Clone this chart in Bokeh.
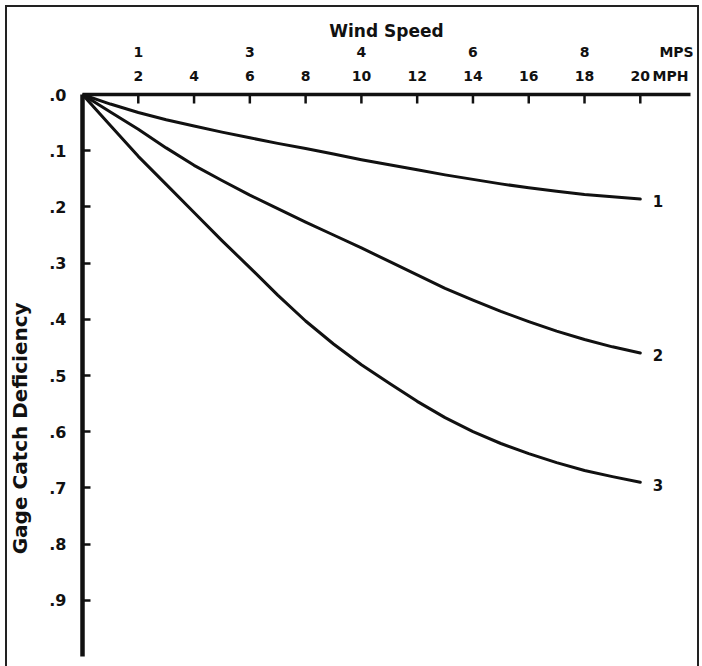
from bokeh.plotting import figure
from bokeh.models import Range1d, LinearAxis, FixedTicker, ColumnDataSource
from bokeh.core.properties import value
from bokeh.embed import file_html
from bokeh.resources import INLINE

# ---- data ----
mph = [0, 1, 2, 3, 4, 5, 6, 7, 8, 9, 10, 11, 12, 13, 14, 15, 16, 17, 18, 19, 20]
curve1 = [0, 0.017, 0.032, 0.045, 0.056, 0.067, 0.077, 0.087, 0.096, 0.106, 0.116,
          0.125, 0.134, 0.143, 0.151, 0.159, 0.166, 0.172, 0.178, 0.182, 0.186]
curve2 = [0, 0.031, 0.062, 0.095, 0.126, 0.153, 0.179, 0.203, 0.227, 0.25, 0.273,
          0.297, 0.321, 0.345, 0.366, 0.386, 0.404, 0.421, 0.436, 0.449, 0.46]
curve3 = [0, 0.055, 0.11, 0.16, 0.21, 0.26, 0.308, 0.357, 0.403, 0.444, 0.481,
          0.514, 0.546, 0.575, 0.6, 0.621, 0.639, 0.655, 0.669, 0.68, 0.69]
curve_names = ["1", "2", "3"]

mph_ticks = [2, 4, 6, 8, 10, 12, 14, 16, 18, 20]
mph_unit = "MPH"
mph_unit_pos = 21.08
mps_tick_pos = [2, 6, 10, 14, 18]
mps_tick_labels = ["1", "3", "4", "6", "8"]
mps_unit = "MPS"
mps_unit_pos = 21.3
y_ticks = [0.0, 0.1, 0.2, 0.3, 0.4, 0.5, 0.6, 0.7, 0.8, 0.9]
y_tick_labels = [".0", ".1", ".2", ".3", ".4", ".5", ".6", ".7", ".8", ".9"]

x_title = "Wind Speed"
y_title = "Gage Catch Deficiency"
y_title_pos = 0.594   # where the title is centred along the deficiency scale

FONT = "DejaVu Sans"
INK = "#111111"

p = figure(width=702, height=666,
           x_range=Range1d(0, 21.8), y_range=Range1d(1.0, 0.0),
           x_axis_location="above", y_axis_location="left",
           output_backend="svg", toolbar_location=None,
           min_border_left=82, min_border_top=94, min_border_right=12, min_border_bottom=10)
p.grid.visible = False
p.outline_line_color = None
p.border_fill_color = None
p.background_fill_color = None
p.styles = {"box-shadow": ("inset 5px 5px 0 #ffffff, inset -3px 0 0 #ffffff, "
                           "inset 7px 7px 0 #222222, inset -5px 0 0 #222222")}


def style_labels(ax, size="14px"):
    ax.major_label_text_font = FONT
    ax.major_label_text_font_style = "bold"
    ax.major_label_text_font_size = size
    ax.major_label_text_color = INK


# MPH row: axis line + MPH labels (tick marks drawn below as short inward strokes)
mph_labels = {t: str(t) for t in mph_ticks}
mph_labels[mph_unit_pos] = mph_unit
xa = p.xaxis[0]
xa.ticker = FixedTicker(ticks=mph_ticks + [mph_unit_pos])
xa.major_label_overrides = mph_labels
xa.axis_line_width = 3.5
xa.axis_line_color = INK
xa.major_tick_line_color = None
xa.minor_tick_line_color = None
xa.major_label_standoff = 5
style_labels(xa)

# inward tick marks of the wind-speed axis
p.segment(x0=mph_ticks, y0=[0.0] * len(mph_ticks), x1=mph_ticks, y1=[0.016] * len(mph_ticks),
          line_width=2.5, line_color=INK)

# MPS row + title
mps_labels = {pos: lab for pos, lab in zip(mps_tick_pos, mps_tick_labels)}
mps_labels[mps_unit_pos] = mps_unit
xc = LinearAxis(ticker=FixedTicker(ticks=mps_tick_pos + [mps_unit_pos]),
                major_label_overrides=mps_labels)
xc.axis_line_color = None
xc.major_tick_line_color = None
xc.minor_tick_line_color = None
xc.major_label_standoff = -1
style_labels(xc)
xc.axis_label = x_title
xc.axis_label_standoff = 0
xc.axis_label_text_font = FONT
xc.axis_label_text_font_style = "bold"
xc.axis_label_text_font_size = "17px"
xc.axis_label_text_color = INK
p.add_layout(xc, "above")

# Y axis
ya = p.yaxis[0]
ya.ticker = FixedTicker(ticks=y_ticks)
ya.major_label_overrides = {t: l for t, l in zip(y_ticks, y_tick_labels)}
ya.axis_line_width = 4.5
ya.axis_line_color = INK
ya.major_tick_in = 8
ya.major_tick_out = 0
ya.major_tick_line_width = 2.5
ya.major_tick_line_color = INK
ya.minor_tick_line_color = None
ya.major_label_standoff = 16
style_labels(ya, "16px")

# y title, placed as a rotated label on an outer, line-less axis
yt = LinearAxis(ticker=FixedTicker(ticks=[y_title_pos]),
                major_label_overrides={y_title_pos: y_title},
                major_label_orientation="vertical")
yt.axis_line_color = None
yt.major_tick_line_color = None
yt.minor_tick_line_color = None
yt.major_label_standoff = 8
style_labels(yt, "20px")
p.add_layout(yt, "left")

# curves
for ys in (curve1, curve2, curve3):
    p.line(mph, ys, line_width=3, line_color=INK, line_join="round", line_cap="round")

ends = [curve1[-1], curve2[-1], curve3[-1]]
src = ColumnDataSource(dict(x=[mph[-1] + 0.45] * 3, y=[e + 0.004 for e in ends], t=curve_names))
p.text(x="x", y="y", text="t", source=src, text_align="left", text_baseline="middle",
       text_font=value(FONT), text_font_style="bold", text_font_size="15px", text_color=INK)

open("out.html", "w").write(file_html(p, INLINE))
